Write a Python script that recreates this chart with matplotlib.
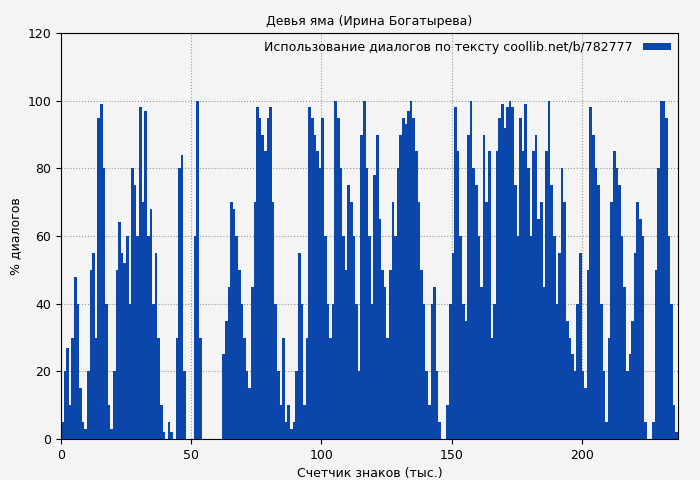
import matplotlib.pyplot as plt
import numpy as np

values = [5,20,27,10, 30,48,40,15,5,3, 20,50,55,30, 95,99,80,40, 10,3,20,50,
          64,55,52,60,40, 80,75,60,98, 70,97,60,68,40, 55,30,10,2,0, 5,2,0,
          30,80,84,20, 0,0,0, 60,100,30, 0,0,0,0,0,0,0,0,
          25,35,45,70,68,60, 50,40,30,20,15,45,70, 98,95,90,85,95,98,
          70,40,20,10,30, 5,10,3,5, 20,55,40,10,30, 98,95,90,85,80,
          95,60,40,30,40, 100,95,80,60,50, 75,70,60,40,20, 90,100,80,60,40,
          78,90,65,50,45, 30,50,70,60,80, 90,95,93,97,100, 95,85,70,50,40,
          20,10,40,45,20, 5,0,0,10,40, 55,98,85,60,40, 35,90,100,80,75,
          60,45,90,70,85, 30,40,85,95,99, 92,98,100,98,75, 60,95,85,99,80,
          60,85,90,65,70, 45,85,100,75,60, 40,55,80,70,35, 30,25,20,40,55,
          20,15,50,98,90, 80,75,40,20,5, 30,70,85,80,75, 60,45,20,25,35,
          55,70,65,60,5, 0,0,5,50,80, 100,100,95,60,40, 10,2]
x = np.arange(len(values))

fig = plt.figure(figsize=(7, 4.8), dpi=100, facecolor='#f4f4f4')
ax = fig.add_axes([61/700, 41/480, 617/700, 406/480])
ax.set_facecolor('#f4f4f4')
ax.bar(x, values, width=1.0, align='edge', color='#0b47ab', linewidth=0,
       label='Использование диалогов по тексту coollib.net/b/782777')
ax.set_xlim(0, 237)
ax.set_ylim(0, 120)
ax.set_yticks(range(0, 121, 20))
ax.set_xticks(range(0, 201, 50))
ax.grid(True, color='#999999', linestyle=':', linewidth=0.8)
ax.set_axisbelow(True)
ax.tick_params(labelsize=9)
ax.set_title('Девья яма (Ирина Богатырева)', fontsize=9)
ax.set_xlabel('Счетчик знаков (тыс.)', fontsize=9)
ax.set_ylabel('% диалогов', fontsize=9)
ax.legend(loc='upper right', fontsize=9, frameon=False, markerfirst=False,
          handlelength=2.2, handleheight=0.5, borderaxespad=0.2)
fig.savefig('out.png', dpi=100, facecolor='#f4f4f4')
